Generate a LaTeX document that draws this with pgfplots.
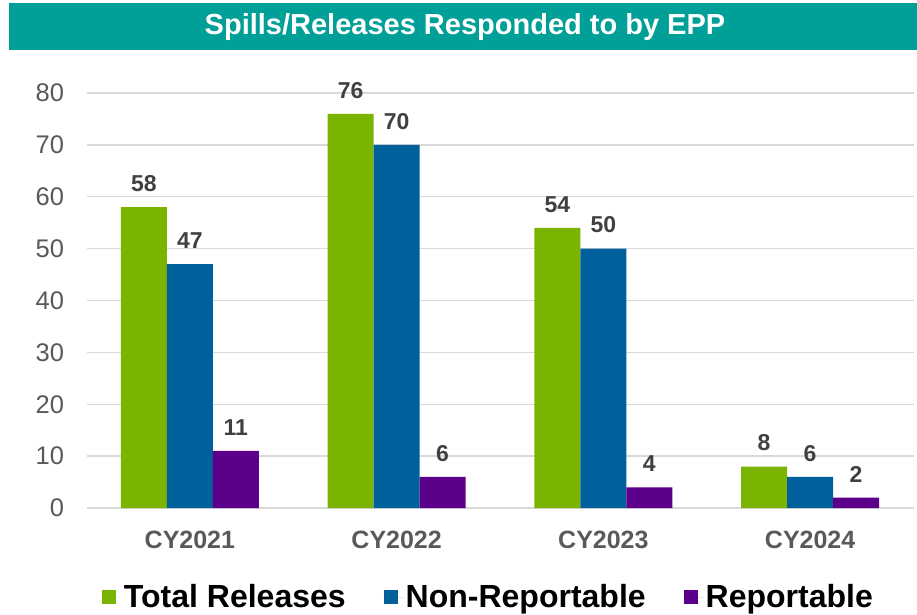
\documentclass[border=0pt]{standalone}
\usepackage{pgfplots}
\pgfplotsset{compat=1.18}
\usepackage{fontspec}
\setmainfont{Liberation Sans}
\definecolor{cgreen}{RGB}{122,180,0}
\definecolor{cblue}{RGB}{0,96,156}
\definecolor{cpurple}{RGB}{92,0,140}
\definecolor{cteal}{RGB}{0,160,152}
\definecolor{gridgray}{RGB}{217,217,217}
\definecolor{ticktext}{RGB}{89,89,89}
\definecolor{labtext}{RGB}{64,64,64}
\begin{document}
\begin{tikzpicture}[x=1pt,y=1pt]
\useasboundingbox (0,0) rectangle (917,-614);
\fill[cteal] (9,-3) rectangle (917,-50);
\node[text=white, font=\fontsize{29}{34}\selectfont\bfseries] at (465,-27) {Spills/Releases Responded to by EPP};
\begin{axis}[
  at={(86.5pt,-508pt)}, anchor=south west,
  scale only axis, width=827pt, height=415pt,
  xmin=-0.5, xmax=3.5, ymin=0, ymax=80,
  ybar=0pt, bar width=46pt,
  xtick={0,1,2,3}, xticklabels={CY2021,CY2022,CY2023,CY2024},
  ytick={0,10,...,80},
  ymajorgrids, grid style={draw=gridgray, line width=1.3pt},
  axis line style={draw=none},
  major tick length=0pt,
  /pgf/number format/assume math mode=true,
  yticklabel style={font=\fontsize{25.5}{30}\selectfont, text=ticktext, xshift=-19pt},
  xticklabel style={font=\fontsize{25}{30}\selectfont\bfseries, text=ticktext, yshift=-19pt},
  nodes near coords,
  every node near coord/.append style={font=\fontsize{23}{27}\selectfont\bfseries, text=labtext, yshift=12pt},
  legend columns=3,
  legend style={draw=none, fill=none, at={(0.486,-0.2145)}, anchor=center,
    font=\fontsize{32}{38}\selectfont\bfseries,
    /tikz/every even column/.append style={column sep=36pt}},
  legend image code/.code={\fill[#1] (0pt,-7pt) rectangle (14pt,7pt); \path (0pt,0pt) -- (20pt,0pt);},
]
\addplot[fill=cgreen, draw=none] coordinates {(0,58) (1,76) (2,54) (3,8)};
\addplot[fill=cblue, draw=none] coordinates {(0,47) (1,70) (2,50) (3,6)};
\addplot[fill=cpurple, draw=none] coordinates {(0,11) (1,6) (2,4) (3,2)};
\legend{Total Releases, Non-Reportable, Reportable}
\end{axis}
\end{tikzpicture}
\end{document}
